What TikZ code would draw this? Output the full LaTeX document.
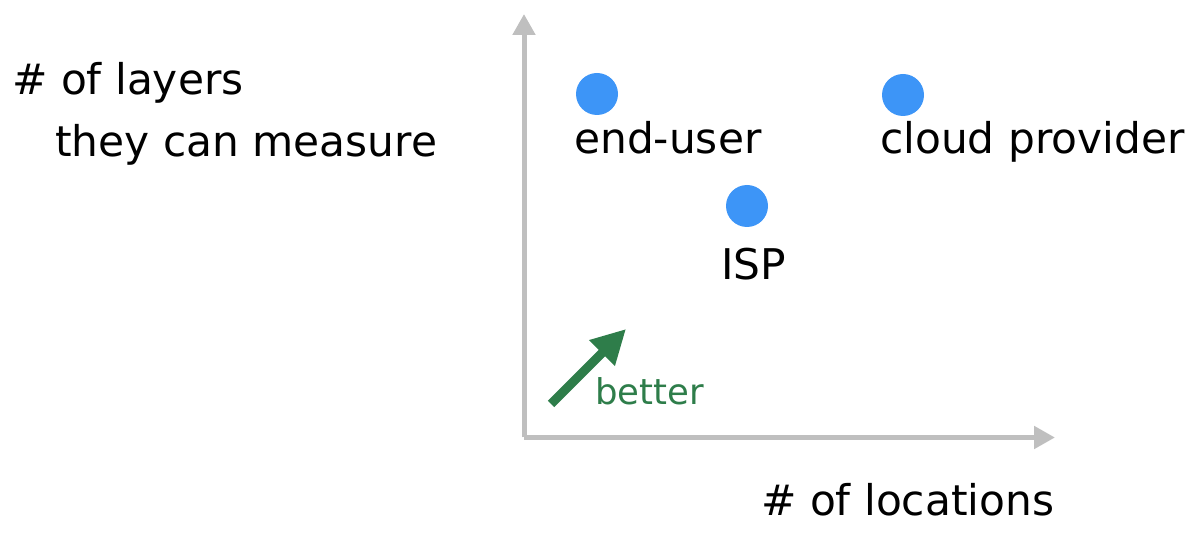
\documentclass[tikz,border=0pt]{standalone}
\usepackage{fontspec}
\setmainfont{DejaVu Sans}
\usetikzlibrary{arrows.meta}
\definecolor{dotblue}{RGB}{61,149,247}
\definecolor{axisgray}{RGB}{191,191,191}
\definecolor{bettergreen}{RGB}{46,125,74}
\tikzset{
    every node/.style={inner sep=0pt, font=\fontsize{42.3}{50}\selectfont}
}
\tikzset{
    dot/.style={circle, fill=dotblue, minimum size=42pt},
    txt/.style={anchor=base west}
}
\tikzset{
    axis/.style={draw=axisgray, line width=5pt,
    	-{Triangle[width=22pt,length=21pt]}}
}

\begin{document}
\begin{tikzpicture}[x=1pt, y=1pt]
  \useasboundingbox (0,0) rectangle (1203,536);

  \coordinate (o) at (524, 98.5);
  \coordinate (ytop) at (524, 522);
  \coordinate (xend) at (1055, 98.5);

  \node (eu) [dot] at (597, 442) {};
  \node (cp) [dot] at (903, 441) {};
  \node (isp) [dot] at (747, 330) {};

  \node (euL) [txt] at (574, 382) {end-user};
  \node (cpL) [txt] at (880, 382) {cloud provider};
  \node (ispL) [txt] at (721, 256) {ISP};

  \node (Y1) [txt] at (12, 441) {\# of layers};
  \node (Y2) [txt] at (55, 379) {they can measure};
  \node (X) [txt] at (761, 21) {\# of locations};

  \coordinate (b0) at (551, 132);
  \coordinate (b1) at (626, 207);
  \node (B) [txt, text=bettergreen, font=\fontsize{35.5}{40}\selectfont]
  	at (595, 131) {better};

  \draw [axis] (o) -- (ytop);
  \draw [axis] (o) -- (xend);
  \draw [bettergreen, line width=9pt,
  	-{Triangle[width=34pt,length=34pt]}] (b0) -- (b1);
\end{tikzpicture}
\end{document}
